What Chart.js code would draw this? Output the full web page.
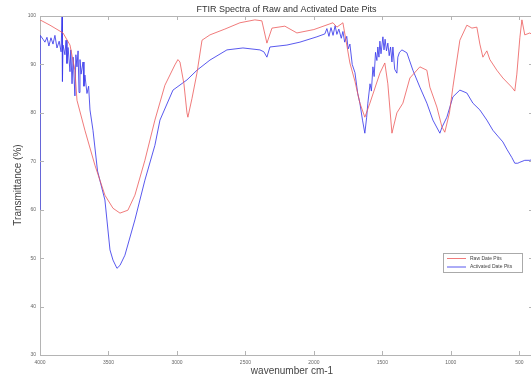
<!DOCTYPE html>
<html>
<head>
<meta charset="utf-8">
<script src="https://cdn.jsdelivr.net/npm/chart.js@4.4.1/dist/chart.umd.min.js"></script>
<style>
html, body { margin: 0; padding: 0; background: #fff; overflow: hidden; }
canvas { display: block; }
</style>
</head>
<body>
<canvas id="ftir" width="540" height="376"></canvas>
<script>
const chartTitle = 'FTIR Spectra of Raw and Activated Date Pits';
const xTitle = 'wavenumber cm-1';
const yTitle = 'Transmittance (%)';
const xTicks = [4000, 3500, 3000, 2500, 2000, 1500, 1000, 500];
const yTicks = [30, 40, 50, 60, 70, 80, 90, 100];

// raw date pits
const rawWavenumber = [4000, 3927, 3832, 3781, 3745, 3730, 3672, 3599, 3526, 3467, 3416, 3358, 3307, 3234, 3161,
  3088, 3015, 2993, 2978, 2949, 2927, 2920, 2890, 2854, 2817, 2759, 2650, 2540, 2431, 2380, 2343, 2306, 2212,
  2124, 2000, 1861, 1832, 1788, 1737, 1700, 1664, 1628, 1591, 1518, 1482, 1460, 1430, 1394, 1350, 1299, 1226,
  1175, 1153, 1102, 1065, 1044, 1010, 985, 934, 883, 846, 810, 788, 766, 737, 715, 664, 620, 555, 533, 518,
  496, 481, 460, 423, 400];
const rawTransmittance = [99.2, 98.1, 96.5, 94.0, 88.8, 82.6, 76.4, 69.2, 63.0, 60.3, 59.3, 59.9, 63.0, 70.2, 78.5,
  85.7, 89.9, 91.0, 90.5, 86.0, 80.0, 79.1, 83.0, 88.2, 95.0, 96.1, 97.3, 98.6, 99.2, 99.0, 94.4, 97.5, 97.9,
  96.5, 97.2, 98.6, 97.7, 98.6, 90.3, 86.5, 82.0, 79.1, 82.0, 88.2, 90.3, 86.0, 75.8, 80.0, 82.0, 87.2, 89.5,
  88.8, 85.3, 81.2, 77.1, 76.0, 80.0, 85.3, 95.0, 98.1, 97.5, 97.7, 94.2, 91.5, 92.8, 91.0, 88.8, 87.2, 85.3, 84.5, 88.0,
  95.5, 99.2, 96.1, 96.5, 96.0];

// activated date pits
const actWavenumber = [4000, 3998, 3978, 3964, 3949, 3935, 3920, 3905, 3891, 3876, 3860, 3846, 3839, 3836, 3832,
  3818, 3810, 3803, 3795, 3781, 3775, 3766, 3758, 3745, 3738, 3730, 3722, 3715, 3708, 3700, 3686, 3679, 3672,
  3657, 3645, 3635, 3613, 3580, 3526, 3489, 3467, 3438, 3416, 3380, 3307, 3234, 3161, 3124, 3029, 2927, 2854,
  2759, 2635, 2518, 2394, 2365, 2343, 2321, 2197, 2102, 1978, 1920, 1905, 1890, 1875, 1860, 1845, 1832, 1818,
  1800, 1788, 1775, 1760, 1750, 1737, 1720, 1700, 1680, 1664, 1645, 1628, 1615, 1606, 1590, 1580, 1569, 1560,
  1550, 1540, 1533, 1525, 1518, 1510, 1496, 1488, 1480, 1470, 1460, 1450, 1440, 1430, 1423, 1410, 1394, 1387,
  1375, 1357, 1321, 1277, 1226, 1175, 1131, 1080, 1065, 1029, 985, 934, 883, 839, 788, 737, 693, 657, 620, 591,
  555, 533, 511, 496, 460, 423, 400];
const actTransmittance = [60.0, 96.0, 95.2, 94.6, 95.6, 93.8, 95.5, 94.2, 96.0, 93.4, 94.8, 92.6, 100, 86.5, 94.0,
  92.0, 95.0, 90.2, 93.5, 88.5, 93.0, 86.0, 91.5, 83.5, 92.0, 89.5, 92.8, 84.2, 91.0, 88.0, 90.5, 85.5, 87.8,
  84.0, 85.5, 80.6, 76.4, 68.0, 62.0, 51.7, 49.6, 47.9, 48.5, 50.6, 57.9, 66.1, 73.3, 78.5, 84.7, 86.8, 88.8,
  90.9, 93.0, 93.4, 93.0, 92.6, 91.5, 93.6, 94.0, 94.6, 95.7, 96.3, 97.4, 95.8, 97.6, 96.0, 98.0, 96.2, 97.3,
  95.4, 96.8, 94.6, 95.8, 93.2, 94.2, 90.0, 88.3, 84.0, 82.0, 78.5, 75.8, 79.0, 82.0, 86.0, 84.5, 89.5, 87.5,
  92.5, 90.8, 93.6, 91.5, 94.8, 92.2, 95.7, 93.0, 95.2, 92.8, 94.4, 91.8, 93.6, 90.5, 93.6, 89.0, 88.2, 91.5,
  92.5, 93.0, 92.4, 88.8, 85.3, 82.0, 78.5, 75.8, 77.0, 79.1, 83.3, 84.7, 84.1, 82.0, 80.6, 78.5, 76.4, 75.2, 74.0, 72.5,
  70.8, 69.6, 69.6, 69.8, 70.2, 70.2, 70.4];

const rawPoints = rawWavenumber.map((w, i) => ({ x: w, y: rawTransmittance[i] }));
const actPoints = actWavenumber.map((w, i) => ({ x: w, y: actTransmittance[i] }));

const FONT = '"Liberation Sans", Arial, sans-serif';
const AXIS = '#b4b4b4';

// box, inward ticks, title, axis labels and legend
const framePlugin = {
  id: 'frame',
  afterDraw(chart) {
    const { ctx, chartArea: a, scales } = chart;
    ctx.save();
    ctx.strokeStyle = AXIS;
    ctx.lineWidth = 1;
    ctx.beginPath();
    ctx.moveTo(a.left, a.top + 0.5);
    ctx.lineTo(a.right, a.top + 0.5);
    ctx.moveTo(a.right - 0.5, a.top);
    ctx.lineTo(a.right - 0.5, a.bottom);
    xTicks.forEach(v => {
      const px = Math.round(scales.x.getPixelForValue(v)) + 0.5;
      ctx.moveTo(px, a.bottom); ctx.lineTo(px, a.bottom - 4);
      ctx.moveTo(px, a.top); ctx.lineTo(px, a.top + 4);
    });
    yTicks.forEach(v => {
      const py = Math.round(scales.y.getPixelForValue(v)) + 0.5;
      ctx.moveTo(a.left, py); ctx.lineTo(a.left + 4, py);
      ctx.moveTo(a.right, py); ctx.lineTo(a.right - 4, py);
    });
    ctx.stroke();

    ctx.fillStyle = '#333';
    ctx.textAlign = 'center';
    ctx.textBaseline = 'middle';
    ctx.font = '9px ' + FONT;
    ctx.fillText(chartTitle, (a.left + a.right) / 2, 10);

    ctx.fillStyle = '#444';
    ctx.font = '10px ' + FONT;
    ctx.fillText(xTitle, 292, 371);
    ctx.save();
    ctx.translate(18, 185);
    ctx.rotate(-Math.PI / 2);
    ctx.fillText(yTitle, 0, 0);
    ctx.restore();

    // legend
    const lx = 443, ly = 253, lw = 79, lh = 19;
    ctx.fillStyle = '#fff';
    ctx.fillRect(lx, ly, lw, lh);
    ctx.strokeStyle = '#aaa';
    ctx.strokeRect(lx + 0.5, ly + 0.5, lw, lh);
    ctx.font = '5px ' + FONT;
    ctx.textAlign = 'left';
    chart.data.datasets.forEach((ds, i) => {
      const y = ly + 5.5 + i * 8.5;
      ctx.strokeStyle = ds.borderColor;
      ctx.beginPath();
      ctx.moveTo(lx + 4, y);
      ctx.lineTo(lx + 23, y);
      ctx.stroke();
      ctx.fillStyle = '#444';
      ctx.fillText(ds.label, lx + 27, y);
    });
    ctx.restore();
  }
};

new Chart(document.getElementById('ftir').getContext('2d'), {
  type: 'line',
  data: {
    datasets: [
      { label: 'Raw Date Pits', data: rawPoints, borderColor: 'rgba(236, 90, 90, 0.8)', borderWidth: 1 },
      { label: 'Activated Date Pits', data: actPoints, borderColor: 'rgba(60, 60, 235, 0.85)', borderWidth: 1 }
    ]
  },
  options: {
    responsive: false,
    animation: false,
    parsing: false,
    elements: { point: { radius: 0 }, line: { tension: 0 } },
    layout: { padding: { top: 16, right: 7, left: 0, bottom: 0 } },
    plugins: { legend: { display: false }, title: { display: false }, tooltip: { enabled: false } },
    scales: {
      x: {
        type: 'linear',
        reverse: true,
        min: 400,
        max: 4000,
        afterBuildTicks: s => { s.ticks = xTicks.map(v => ({ value: v })); },
        afterFit: s => { s.height = 21; },
        grid: { display: false, drawTicks: false, tickLength: 0 },
        border: { display: true, color: AXIS },
        ticks: {
          font: { size: 5, family: FONT }, color: '#666', padding: 5, maxRotation: 0, autoSkip: false,
          callback: v => String(v)
        }
      },
      y: {
        min: 30,
        max: 100,
        afterBuildTicks: s => { s.ticks = yTicks.map(v => ({ value: v })); },
        afterFit: s => { s.width = 40; },
        grid: { display: false, drawTicks: false, tickLength: 0 },
        border: { display: true, color: AXIS },
        ticks: { font: { size: 5, family: FONT }, color: '#666', padding: 4, callback: v => String(v) }
      }
    }
  },
  plugins: [framePlugin]
});
</script>
</body>
</html>
